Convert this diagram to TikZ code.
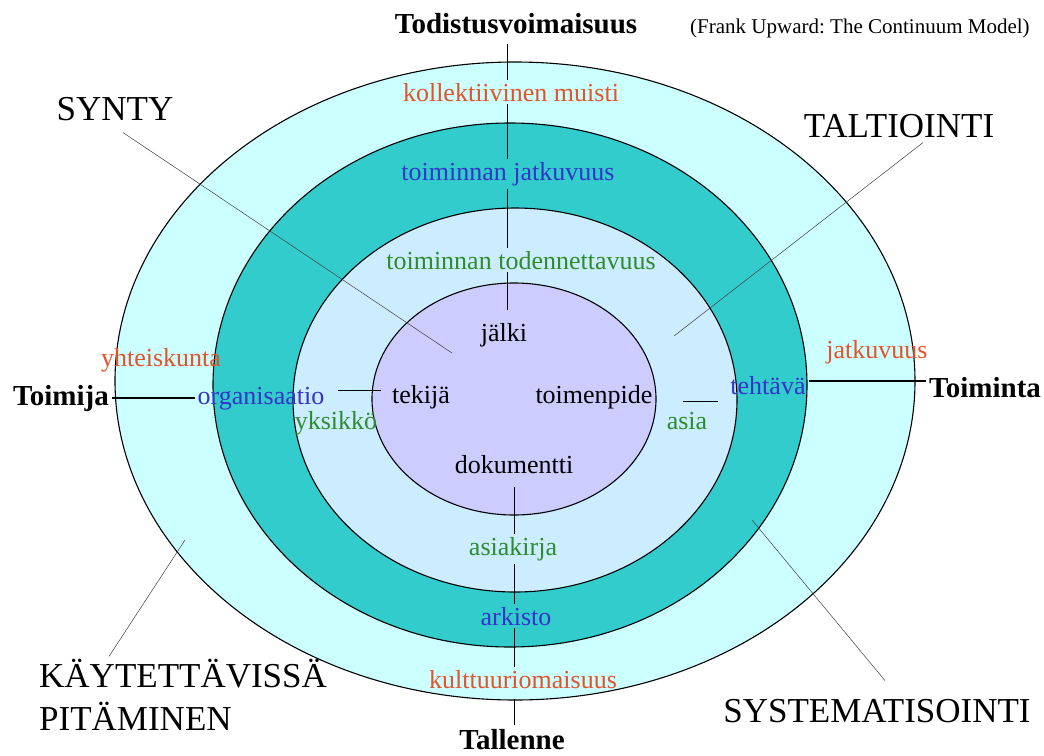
\documentclass[tikz,border=0pt]{standalone}
\usepackage{fontspec}
\setmainfont{Liberation Serif}
\frenchspacing

\definecolor{ringouter}{HTML}{CCFFFF}
\definecolor{ringteal}{HTML}{33CCCC}
\definecolor{ringblue}{HTML}{CCECFF}
\definecolor{ringcore}{HTML}{CCCCFF}
\definecolor{txtred}{HTML}{E4532A}
\definecolor{txtblue}{HTML}{3434C8}
\definecolor{txtgreen}{HTML}{2E8C2E}

\tikzset{
  lbl/.style={font=\fontsize{26}{28}\selectfont, inner sep=3pt, anchor=base},
  biglbl/.style={font=\fontsize{35}{38}\selectfont, inner sep=2pt, anchor=base},
  axislbl/.style={font=\bfseries\fontsize{29}{31}\selectfont, inner sep=3pt, anchor=base},
  ring/.style={draw=black, line width=1.1pt},
  leader/.style={line width=0.5pt, black!75},
  axisline/.style={line width=0.9pt},
  thickline/.style={line width=1.7pt}
}

\begin{document}
\begin{tikzpicture}[x=1pt,y=-1pt]
            \useasboundingbox (0,0) rectangle (1044,755);
            \fill[white] (0,0) rectangle (1044,755);

            \coordinate (topaxis) at (507,0);
            \coordinate (botaxis) at (514,0);
            \coordinate (syntytip) at (452,353);
            \coordinate (taltiotip) at (674,336);
            \coordinate (kayttip) at (185,540);
            \coordinate (systip) at (752,520);

            \draw[ring, fill=ringouter] (515,381) ellipse [x radius=400, y radius=319];
            \draw[ring, fill=ringteal] (510,385) ellipse [x radius=297, y radius=262];
            \draw[ring, fill=ringblue] (515,400) ellipse [x radius=222, y radius=192];
            \draw[ring, fill=ringcore] (514,399) ellipse [x radius=142, y radius=116];

            % ring texts
            \node[axislbl] (todist) at (516,33) {Todistusvoimaisuus};
            \node[lbl, anchor=base west, inner sep=2pt, font=\fontsize{21}{23}\selectfont] (frank) at (688,33) {(Frank Upward: The Continuum Model)};
            \node[lbl, txtred] (kollekt) at (511,101) {kollektiivinen muisti};
            \node[lbl, txtblue] (jatk) at (508,180) {toiminnan jatkuvuus};
            \node[lbl, txtgreen] (toden) at (521,269) {toiminnan todennettavuus};
            \node[lbl] (jalki) at (504,341) {jälki};

            \node[lbl, txtred] (yhteis) at (161,366) {yhteiskunta};
            \node[lbl, txtred] (jatkuv) at (877,358) {jatkuvuus};
            \node[axislbl] (toimija) at (61,405) {Toimija};
            \node[lbl, txtblue] (organis) at (261,404) {organisaatio};
            \node[lbl] (tekija) at (421,403) {tekijä};
            \node[lbl] (toimenp) at (594,403) {toimenpide};
            \node[lbl, txtblue] (tehtava) at (768,394) {tehtävä};
            \node[axislbl, anchor=base west] (toiminta) at (926,397) {Toiminta};
            \node[lbl, txtgreen] (yksikko) at (336,429) {yksikkö};
            \node[lbl, txtgreen] (asia) at (687,429) {asia};

            \node[lbl] (dokum) at (514,473) {dokumentti};
            \node[lbl, txtgreen] (asiak) at (513,555) {asiakirja};
            \node[lbl, txtblue] (arkisto) at (516,625) {arkisto};
            \node[lbl, txtred] (kultt) at (523,688) {kulttuuriomaisuus};
            \node[axislbl, inner sep=1pt] (tallenne) at (512,749) {Tallenne};

            % phases
            \node[biglbl] (synty) at (115,120) {SYNTY};
            \node[biglbl] (taltio) at (899,137) {TALTIOINTI};
            \node[biglbl, anchor=base west] (kaytt) at (37,687) {KÄYTETTÄVISSÄ};
            \node[biglbl, anchor=base west] (pitam) at (37,730) {PITÄMINEN};
            \node[biglbl] (systemat) at (877,722) {SYSTEMATISOINTI};

            \draw[leader] ([xshift=8pt,yshift=-10pt]synty.south) -- (syntytip);
            \draw[leader] ([xshift=24pt,yshift=-3pt]taltio.south) -- (taltiotip);
            \draw[leader] ([xshift=72pt]kaytt.north west) -- (kayttip);
            \draw[leader] ([xshift=8pt,yshift=16pt]systemat.north) -- (systip);

            % axes
            \draw[axisline, shorten <=7pt] (todist.south -| topaxis) -- (kollekt.north -| topaxis);
            \draw[axisline] (kollekt.south -| topaxis) -- (jatk.north -| topaxis);
            \draw[axisline] (jatk.south -| topaxis) -- (toden.north -| topaxis);
            \draw[axisline, shorten >=10pt] (toden.south -| topaxis) -- (jalki.north -| topaxis);

            \draw[axisline, shorten <=11pt] (dokum.south -| botaxis) -- (asiak.north -| botaxis);
            \draw[axisline] (asiak.south -| botaxis) -- (arkisto.north -| botaxis);
            \draw[axisline] (arkisto.south -| botaxis) -- (kultt.north -| botaxis);
            \draw[axisline, shorten <=8pt, shorten >=3pt] (kultt.south -| botaxis) -- (tallenne.north -| botaxis);

            \draw[thickline] (toimija.east) -- (toimija.east -| organis.west);
            \draw[axisline, shorten <=10pt, shorten >=8pt] ([yshift=8pt]organis.east) -- ([yshift=8pt]organis.east -| tekija.west);
            \draw[axisline, shorten <=27pt, shorten >=9pt] ([yshift=-5pt]toimenp.east) -- ([yshift=-5pt]toimenp.east -| tehtava.west);
            \draw[thickline] ([yshift=4pt]tehtava.east) -- ([yshift=4pt]tehtava.east -| toiminta.west);
\end{tikzpicture}
\end{document}
